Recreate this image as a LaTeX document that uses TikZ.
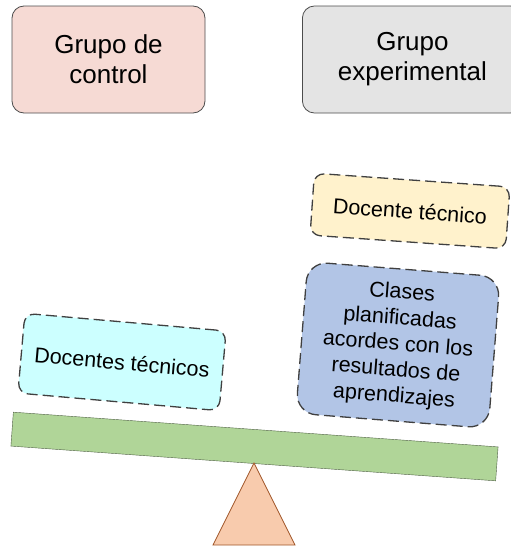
\documentclass[tikz,border=0pt]{standalone}
\usepackage{fontspec}
\setmainfont{Liberation Sans}
\definecolor{controlpink}{RGB}{246,218,212}
\definecolor{expgray}{RGB}{228,228,228}
\definecolor{tecyellow}{RGB}{255,242,204}
\definecolor{clasesblue}{RGB}{178,197,230}
\definecolor{docentescyan}{RGB}{204,255,255}
\definecolor{beamgreen}{RGB}{176,213,152}
\definecolor{pivotfill}{RGB}{248,203,173}
\definecolor{pivotline}{RGB}{160,85,40}
\usetikzlibrary{
  positioning,
}

\begin{document}
\begin{tikzpicture}[x=1pt,y=-1pt,
    grupo/.style={draw=black!70,line width=0.8pt,rounded corners=12pt,minimum width=193pt,minimum height=107pt,align=center,font=\fontsize{26}{30}\selectfont},
    nota/.style={draw=black!75,line width=1.3pt,dash pattern=on 11pt off 5pt,rounded corners=10pt,align=center,inner sep=0pt,font=\fontsize{21.5}{26}\selectfont}]

        \useasboundingbox (0,0) rectangle (511,546);

        % los dos grupos
        \node[grupo,fill=controlpink]    (control)  at (108.5,59.5)   {Grupo de\\control};
        \node[grupo,fill=expgray,minimum width=220pt,anchor=west]    (experimental) at (302,59.5)  {Grupo\\experimental};

        % lo que va sobre la balanza
        \node[nota,fill=tecyellow,rotate=-4,minimum width=196pt,minimum height=62pt]    (tecnico)   at (410,211)  {Docente técnico};
        \node[nota,fill=clasesblue,rotate=-4.5,minimum width=193pt,minimum height=152pt,rounded corners=20pt]    (clases)  at (398,345)  {Clases\\planificadas\\acordes con los\\resultados de\\aprendizajes};
        \node[nota,fill=docentescyan,rotate=-5,minimum width=202pt,minimum height=80pt]    (docentes)  at (122,362)  {Docentes técnicos};

        % balanza
        \node[draw=beamgreen!45!black,fill=beamgreen,rotate=-4.1,minimum width=486pt,minimum height=34pt,inner sep=0pt]    (barra)  at (254.5,446.5)  {};
        \coordinate (apice) at (254,463);
        \coordinate (baseizq) at (213,545);
        \coordinate (baseder) at (295,545);
        \draw[draw=pivotline,fill=pivotfill,line width=0.8pt] (apice) -- (baseizq) -- (baseder) -- cycle;

    \end{tikzpicture}
\end{document}
